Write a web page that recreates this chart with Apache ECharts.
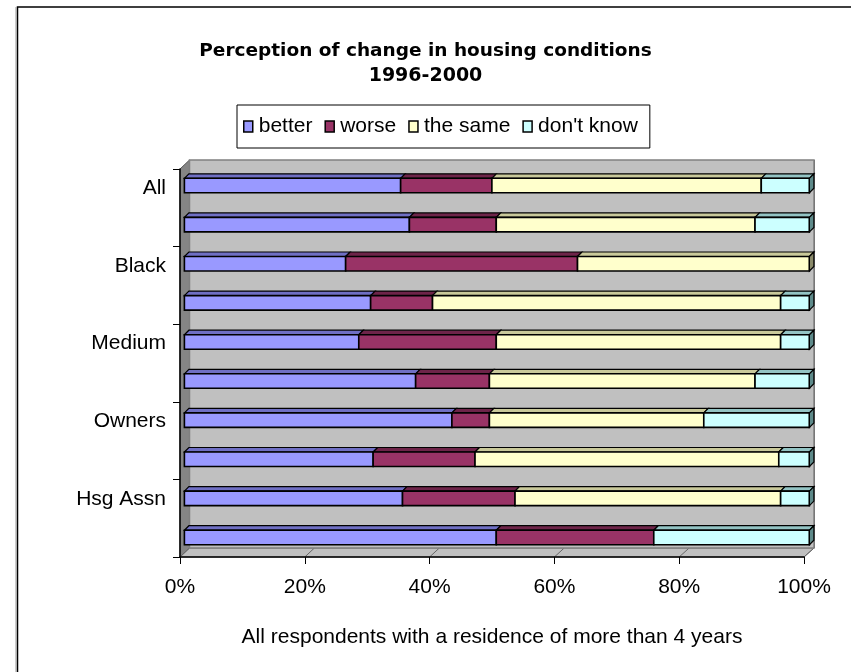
<!DOCTYPE html>
<html><head><meta charset="utf-8">
<script src="https://cdn.jsdelivr.net/npm/echarts@6/dist/echarts.min.js"></script>
<style>html,body{margin:0;padding:0;background:#fff;overflow:hidden}#c{width:851px;height:672px}</style>
</head><body><div id="c"></div>
<script>
// ---- data ----
const categories = ['All', 'White', 'Black', 'Low', 'Medium', 'High', 'Owners', 'Council', 'Hsg Assn', 'Private'];
const seriesNames = ['better', 'worse', 'the same', "don't know"];
const better   = [34.6, 36.0, 25.8, 29.8, 27.9, 37.0, 42.8, 30.2, 34.9, 49.9];
const worse    = [14.6, 13.9, 37.1,  9.9, 22.0, 11.8,  6.0, 16.3, 18.0, 25.2];
const same     = [43.1, 41.4, 37.1, 55.7, 45.5, 42.5, 34.3, 48.6, 42.5,  0.0];
const dontKnow = [ 7.7,  8.7,  0.0,  4.6,  4.6,  8.7, 16.9,  4.9,  4.6, 24.9];
const xTicks = [0, 20, 40, 60, 80, 100];
const titleLines = ['Perception of change in housing conditions', '1996-2000'];
const xAxisName = 'All respondents with a residence of more than 4 years';

// ---- style / layout ----
const FONT = "'Liberation Sans', Arial, sans-serif";
const TITLE_FONT = "'DejaVu Sans', 'Liberation Sans', sans-serif";
const colors     = ['#9999FF', '#993366', '#FFFFCC', '#CCFFFF'];
const topColors  = ['#6F6FC4', '#6E2449', '#C9C99A', '#93C4C4'];
const sideColors = ['#4C4C80', '#4A1A32', '#8A8A6A', '#5E8A8A'];
const FRONT = {left: 180, top: 169, width: 624, height: 388};
const DEPTH = {dx: 9.5, dy: 9};
const BACK = {left: FRONT.left + DEPTH.dx, top: FRONT.top - DEPTH.dy, width: FRONT.width + 0.5, height: FRONT.height};
const BAR = {left: 184.4, top: 166, width: 625, height: 391};
const BAR_RATIO = 0.37, BAR_DX = 4.5, BAR_DY = 4.5;

const valueArrays = [better, worse, same, dontKnow];
const starts = valueArrays.map((arr, k) => arr.map((_, i) => {
  let s = 0; for (let j = 0; j < k; j++) s += valueArrays[j][i]; return s;
}));

function makeRender(k) {
  return function (params, api) {
    const v = api.value(0);
    if (!(v > 0)) return;
    const s = api.value(2), c = api.value(1);
    const a = api.coord([s, c]), b = api.coord([s + v, c]);
    const h = api.size([0, 1])[1] * BAR_RATIO;
    const x0 = a[0], x1 = b[0], y0 = a[1] - h / 2, y1 = a[1] + h / 2;
    const ch = [
      {type: 'polygon', shape: {points: [[x0, y0], [x0 + BAR_DX, y0 - BAR_DY], [x1 + BAR_DX, y0 - BAR_DY], [x1, y0]]},
       style: {fill: topColors[k], stroke: '#000', lineWidth: 1.2}},
      {type: 'rect', shape: {x: x0, y: y0, width: x1 - x0, height: h},
       style: {fill: colors[k], stroke: '#000', lineWidth: 1.6}}
    ];
    if (s + v > 99.9) {
      ch.push({type: 'polygon', shape: {points: [[x1, y0], [x1 + BAR_DX, y0 - BAR_DY], [x1 + BAR_DX, y1 - BAR_DY], [x1, y1]]},
        style: {fill: sideColors[k], stroke: '#000', lineWidth: 1.2}});
    }
    return {type: 'group', children: ch};
  };
}

const pxX = (plane, t) => plane.left + plane.width * t / 100;
const graphics = [
  {type: 'polygon', z: 0, shape: {points: [[FRONT.left, FRONT.top], [BACK.left, BACK.top], [BACK.left, BACK.top + BACK.height], [FRONT.left, FRONT.top + FRONT.height]]},
   style: {fill: '#858585', stroke: '#555', lineWidth: 1}},
  {type: 'polygon', z: 0, shape: {points: [[FRONT.left, FRONT.top + FRONT.height], [BACK.left, BACK.top + BACK.height], [BACK.left + BACK.width, BACK.top + BACK.height], [FRONT.left + FRONT.width, FRONT.top + FRONT.height]]},
   style: {fill: '#c0c0c0', stroke: '#777', lineWidth: 1}},
  {type: 'rect', z: 0, shape: {x: 17.5, y: 7, width: 900, height: 700}, style: {fill: null, stroke: '#000', lineWidth: 1.5}},
  {type: 'line', z: 0, shape: {x1: 16, y1: 7, x2: 16, y2: 700}, style: {stroke: '#999', lineWidth: 1}}
];
xTicks.forEach(t => graphics.push({type: 'line', z: 0,
  shape: {x1: pxX(FRONT, t), y1: FRONT.top + FRONT.height, x2: pxX(BACK, t), y2: BACK.top + BACK.height},
  style: {stroke: '#666', lineWidth: 1}}));

const option = {
  animation: false,
  color: colors,
  title: [
    {text: titleLines[0], left: 'center', top: 37, textStyle: {fontFamily: TITLE_FONT, fontSize: 18.5, fontWeight: 'bold', color: '#000'}},
    {text: titleLines[1], left: 'center', top: 62, textStyle: {fontFamily: TITLE_FONT, fontSize: 19, fontWeight: 'bold', color: '#000'}}
  ],
  legend: {
    left: 237, top: 105, data: seriesNames,
    borderColor: '#000', borderWidth: 1, padding: [11, 12, 11, 6], itemGap: 12,
    itemWidth: 9, itemHeight: 11, icon: 'rect', selectedMode: false,
    itemStyle: {borderColor: '#000', borderWidth: 1.5},
    textStyle: {fontFamily: FONT, fontSize: 21, color: '#000', padding: [0, 0, 0, 1]}
  },
  grid: [
    {left: FRONT.left, top: FRONT.top, width: FRONT.width, height: FRONT.height, z: 3},
    {left: BACK.left, top: BACK.top, width: BACK.width, height: BACK.height, show: true, backgroundColor: '#c0c0c0', borderColor: '#808080', borderWidth: 1.5, z: 1},
    {left: BAR.left, top: BAR.top, width: BAR.width, height: BAR.height, z: 2}
  ],
  xAxis: [
    {gridIndex: 0, type: 'value', min: 0, max: 100, interval: 20, z: 10,
     axisLine: {show: true, lineStyle: {color: '#000', width: 1.5}},
     axisTick: {show: true, length: 7, lineStyle: {color: '#000'}},
     splitLine: {show: false},
     axisLabel: {formatter: '{value}%', margin: 20, fontFamily: FONT, fontSize: 21, color: '#000'},
     name: xAxisName, nameLocation: 'middle', nameGap: 70,
     nameTextStyle: {fontFamily: FONT, fontSize: 21, color: '#000'}},
    {gridIndex: 1, type: 'value', min: 0, max: 100, interval: 20,
     axisLine: {show: false}, axisTick: {show: false}, axisLabel: {show: false},
     splitLine: {show: true, lineStyle: {color: '#606060', width: 1}}},
    {gridIndex: 2, type: 'value', min: 0, max: 100, show: false}
  ],
  yAxis: [
    {gridIndex: 0, type: 'category', data: categories, inverse: true, z: 10,
     axisLine: {show: true, lineStyle: {color: '#000', width: 1.5}},
     axisTick: {show: true, length: 7, lineStyle: {color: '#000'}},
     axisLabel: {interval: 1, margin: 14, fontFamily: FONT, fontSize: 21, color: '#000'}},
    {gridIndex: 1, type: 'category', data: categories, inverse: true, show: false},
    {gridIndex: 2, type: 'category', data: categories, inverse: true, show: false}
  ],
  graphic: graphics,
  series: seriesNames.map((name, k) => ({
    name, type: 'custom', xAxisIndex: 2, yAxisIndex: 2, z: 5,
    itemStyle: {color: colors[k], borderColor: '#000', borderWidth: 1.5},
    renderItem: makeRender(k),
    encode: {x: 0, y: 1},
    data: valueArrays[k].map((v, i) => [v, i, starts[k][i]])
  }))
};
const chart = echarts.init(document.getElementById('c'), null, {renderer: 'canvas'});
chart.setOption(option);
</script></body></html>
